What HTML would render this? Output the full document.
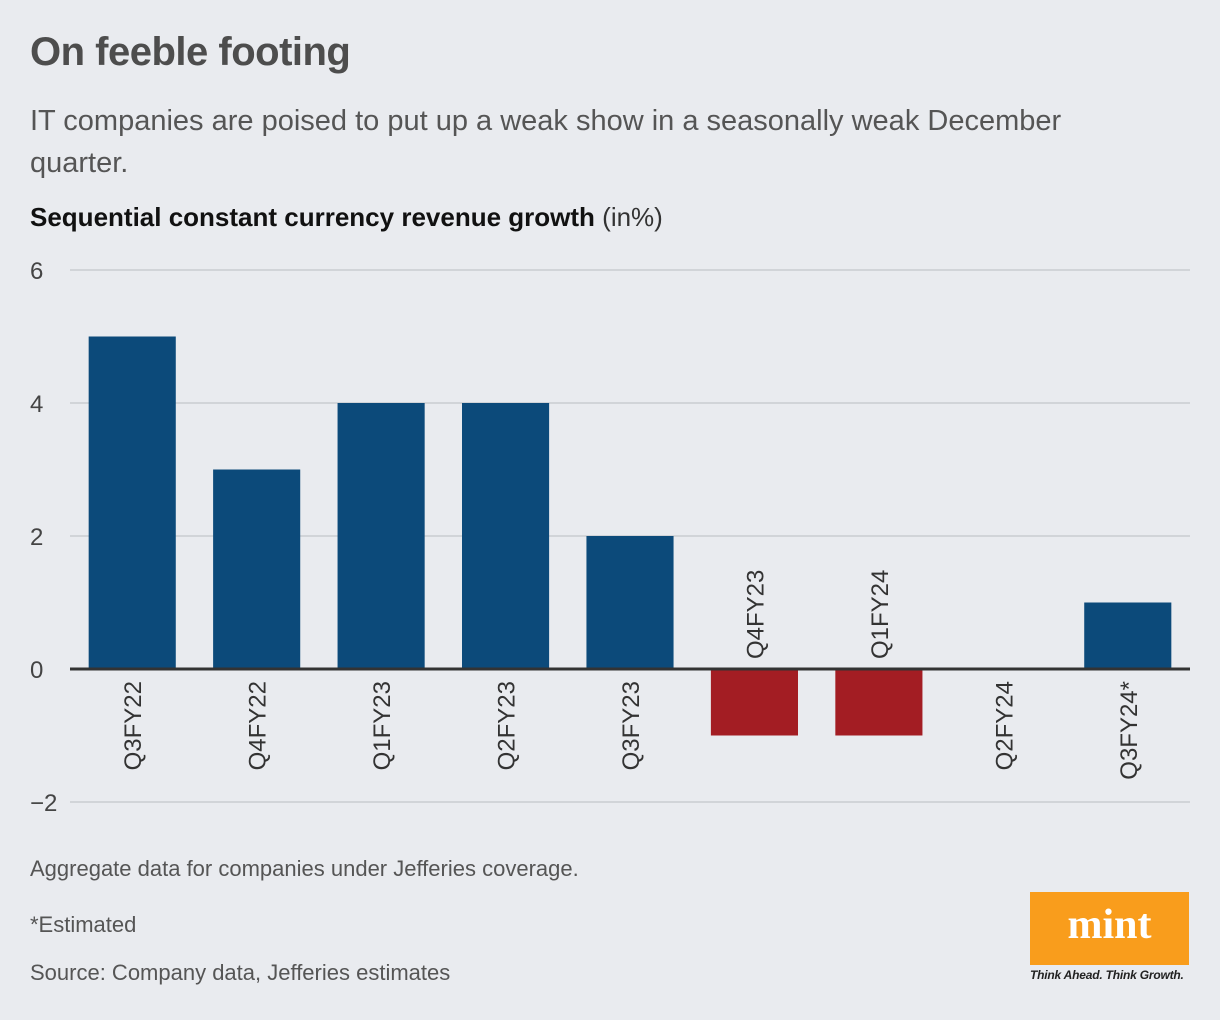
<!DOCTYPE html>
<html><head><meta charset="utf-8"><style>
body{margin:0;width:1220px;height:1020px;background:#e9ebef;font-family:"Liberation Sans",sans-serif;position:relative;overflow:hidden}
.t{position:absolute;white-space:nowrap}
</style></head><body>
<div class="t" style="left:30px;top:30px;font-size:40px;font-weight:bold;color:#4d4d4d;letter-spacing:-0.5px">On feeble footing</div>
<div class="t" style="left:30px;top:100px;font-size:29px;color:#555;line-height:42px;white-space:normal;width:1120px">IT companies are poised to put up a weak show in a seasonally weak December quarter.</div>
<div class="t" style="left:30px;top:202px;font-size:26px;color:#111"><b>Sequential constant currency revenue growth</b> <span style="color:#333">(in%)</span></div>
<svg id="chart" width="1220" height="1020" style="position:absolute;left:0;top:0"></svg>
<div class="t" style="left:30px;top:856px;font-size:22px;color:#555">Aggregate data for companies under Jefferies coverage.</div>
<div class="t" style="left:30px;top:912px;font-size:22px;color:#555">*Estimated</div>
<div class="t" style="left:30px;top:960px;font-size:22px;color:#555">Source: Company data, Jefferies estimates</div>
<div style="position:absolute;left:1030px;top:892px;width:159px;height:73px;background:#f99d1c;color:#fff;font-family:'Liberation Serif',serif;font-weight:bold;font-size:42px;text-align:center;line-height:66px">mint</div>
<div class="t" style="left:1030px;top:968px;font-size:12px;letter-spacing:-0.2px;font-style:italic;color:#222;font-weight:bold">Think Ahead. Think Growth.</div>
<script>
const categories=["Q3FY22","Q4FY22","Q1FY23","Q2FY23","Q3FY23","Q4FY23","Q1FY24","Q2FY24","Q3FY24*"];
const values=[5,3,4,4,2,-1,-1,0,1];
const ticks=[6,4,2,0,-2];
const ns="http://www.w3.org/2000/svg",svg=document.getElementById('chart');
const x0=70,x1=1190,band=(x1-x0)/categories.length;
const y=v=>669-v*66.5;
const xc=i=>x0+band*(i+0.5);
function mk(t,a){const e=document.createElementNS(ns,t);for(const k in a)e.setAttribute(k,a[k]);svg.appendChild(e);return e;}
ticks.forEach(t=>{
 const l=mk('line',{x1:x0,x2:x1,y1:y(t),y2:y(t),stroke:t===0?'#333':'#c9ccd1','stroke-width':t===0?3:1.5});
 
 
 const tx=mk('text',{x:30,y:y(t)+9,'font-size':24,fill:'#444','font-family':'Liberation Sans'});
 tx.textContent=t<0?'\u2212'+Math.abs(t):t;
 
 
});
values.forEach((v,i)=>{
 const w=band*0.7;
 if(v!==0){const r=mk('rect',{x:xc(i)-w/2,y:Math.min(y(v),y(0)+(v<0?1.5:0)),width:w,height:Math.abs(y(v)-y(0))-1.5,fill:v<0?'#a31d23':'#0c4a7a'});
 
 }
 const ly=v<0?y(0)-10:y(0)+12;
 const tx=mk('text',{x:0,y:0,'font-size':24,fill:'#333','font-family':'Liberation Sans','text-anchor':v<0?'start':'end',transform:`translate(${xc(i)+9},${ly}) rotate(-90)`});
 tx.textContent=categories[i];
 
 
});
</script>
</body></html>
